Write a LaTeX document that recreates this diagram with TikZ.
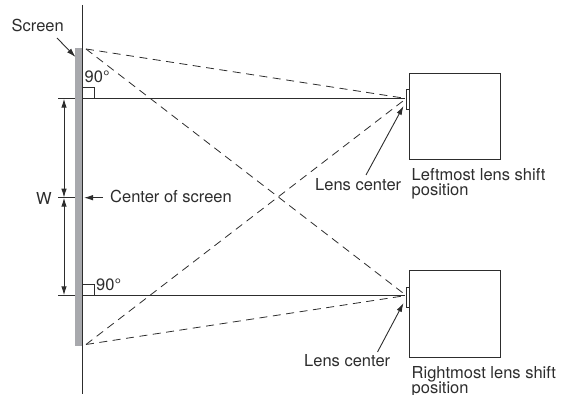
\documentclass[tikz,border=0pt]{standalone}
\usepackage{fontspec}
\setmainfont{TeX Gyre Heros}
\usetikzlibrary{arrows.meta}
\definecolor{screengray}{RGB}{168,169,173}
\definecolor{inkgray}{RGB}{45,45,45}
\tikzset{
   lbl/.style={text=inkgray, font=\fontsize{16.5}{16.5}\selectfont, inner sep=0pt, anchor=base west},
   solid line/.style={draw=inkgray, line width=1pt},
   dash line/.style={draw=inkgray, line width=0.8pt, dash pattern=on 8pt off 5.5pt},
   pointer/.style={draw=inkgray, line width=0.9pt, -{Latex[length=9pt,width=5.5pt]}},
   both pointer/.style={draw=inkgray, line width=1pt, {Latex[length=9pt,width=5.5pt]}-{Latex[length=9pt,width=5.5pt]}},
   thin box/.style={draw=inkgray, line width=1pt, fill=white},
}
\begin{document}
\begin{tikzpicture}[x=1pt, y=-1pt]
\useasboundingbox (0,0) rectangle (566,395);
% screen and wall
\fill[screengray] (75,48) rectangle (83,346);
\coordinate (walltop) at (82.7,5);
\coordinate (wallbot) at (82.7,394);
\draw[solid line] (walltop) -- (wallbot);
% projector boxes
\node[thin box, minimum width=90.5pt, minimum height=86.5pt, inner sep=0pt, outer sep=0pt] (boxA) at (455.2,116.5) {};
\node[thin box, minimum width=90.5pt, minimum height=86.5pt, inner sep=0pt, outer sep=0pt] (boxB) at (455.2,313.8) {};
\node[thin box, minimum width=3.3pt, minimum height=20pt, inner sep=0pt, outer sep=0pt, anchor=east] (lensA) at (boxA.west |- 0,99.3) {};
\node[thin box, minimum width=3.3pt, minimum height=20pt, inner sep=0pt, outer sep=0pt, anchor=east] (lensB) at (boxB.west |- 0,297.2) {};
% axis lines
\coordinate (wallA) at (82.7,98.7);
\coordinate (wallB) at (82.7,295.3);
\coordinate (focusA) at (405,98.7);
\coordinate (focusB) at (405,295.3);
\draw[solid line] (wallA) -- (focusA);
\draw[solid line] (wallB) -- (focusB);
\draw[solid line, line width=0.7pt] (83,87) -- (94.5,87) -- (94.5,98.7);
\draw[solid line, line width=0.7pt] (83,284.7) -- (94.5,284.7) -- (94.5,295.3);
% dashed rays
\coordinate (edgetop) at (86,49);
\coordinate (edgebot) at (86,344.5);
\draw[dash line] (edgetop) -- (403,98);
\draw[dash line] (edgetop) -- (403,293);
\draw[dash line] (edgebot) -- (403,101);
\draw[dash line] (edgebot) -- (403,296);
% width marks
\coordinate (tickA) at (58,98.7);
\coordinate (tickC) at (58,197.7);
\coordinate (tickB) at (58,295.3);
\draw[solid line] (tickA) -- (75,98.7);
\draw[solid line] (tickC) -- (75,197.7);
\draw[solid line] (tickB) -- (75,295.3);
\draw[both pointer] (64,98.7) -- (64,197.7);
\draw[both pointer] (64,197.7) -- (64,295.3);
% labels
\node[lbl] (screen) at (11.5,32) {Screen};
\node[lbl] (deg1) at (84.5,83) {90\textdegree};
\node[lbl] (deg2) at (96,291) {90\textdegree};
\node[lbl] (wlabel) at (36,205) {W};
\node[lbl] (centre) at (110,202.3) {Center of screen};
\node[lbl] (lensL1) at (315,190.7) {Lens center};
\node[lbl] (lensL2) at (304,366.7) {Lens center};
\node[lbl] (left1) at (411.5,180.7) {Leftmost lens shift};
\node[lbl] (left2) at (411.5,195.7) {position};
\node[lbl] (right1) at (411.5,379) {Rightmost lens shift};
\node[lbl] (right2) at (411.5,393.3) {position};
% pointers
\coordinate (screenfrom) at (57,38);
\coordinate (screento) at (75.5,57);
\coordinate (centrefrom) at (103,197.7);
\coordinate (centreto) at (84,197.7);
\coordinate (lensfromA) at (366,175);
\coordinate (lenstoA) at (403.5,106);
\coordinate (lensfromB) at (377.5,352);
\coordinate (lenstoB) at (403.5,303);
\draw[pointer] (screenfrom) -- (screento);
\draw[pointer] (centrefrom) -- (centreto);
\draw[pointer] (lensfromA) -- (lenstoA);
\draw[pointer] (lensfromB) -- (lenstoB);
\end{tikzpicture}
\end{document}
